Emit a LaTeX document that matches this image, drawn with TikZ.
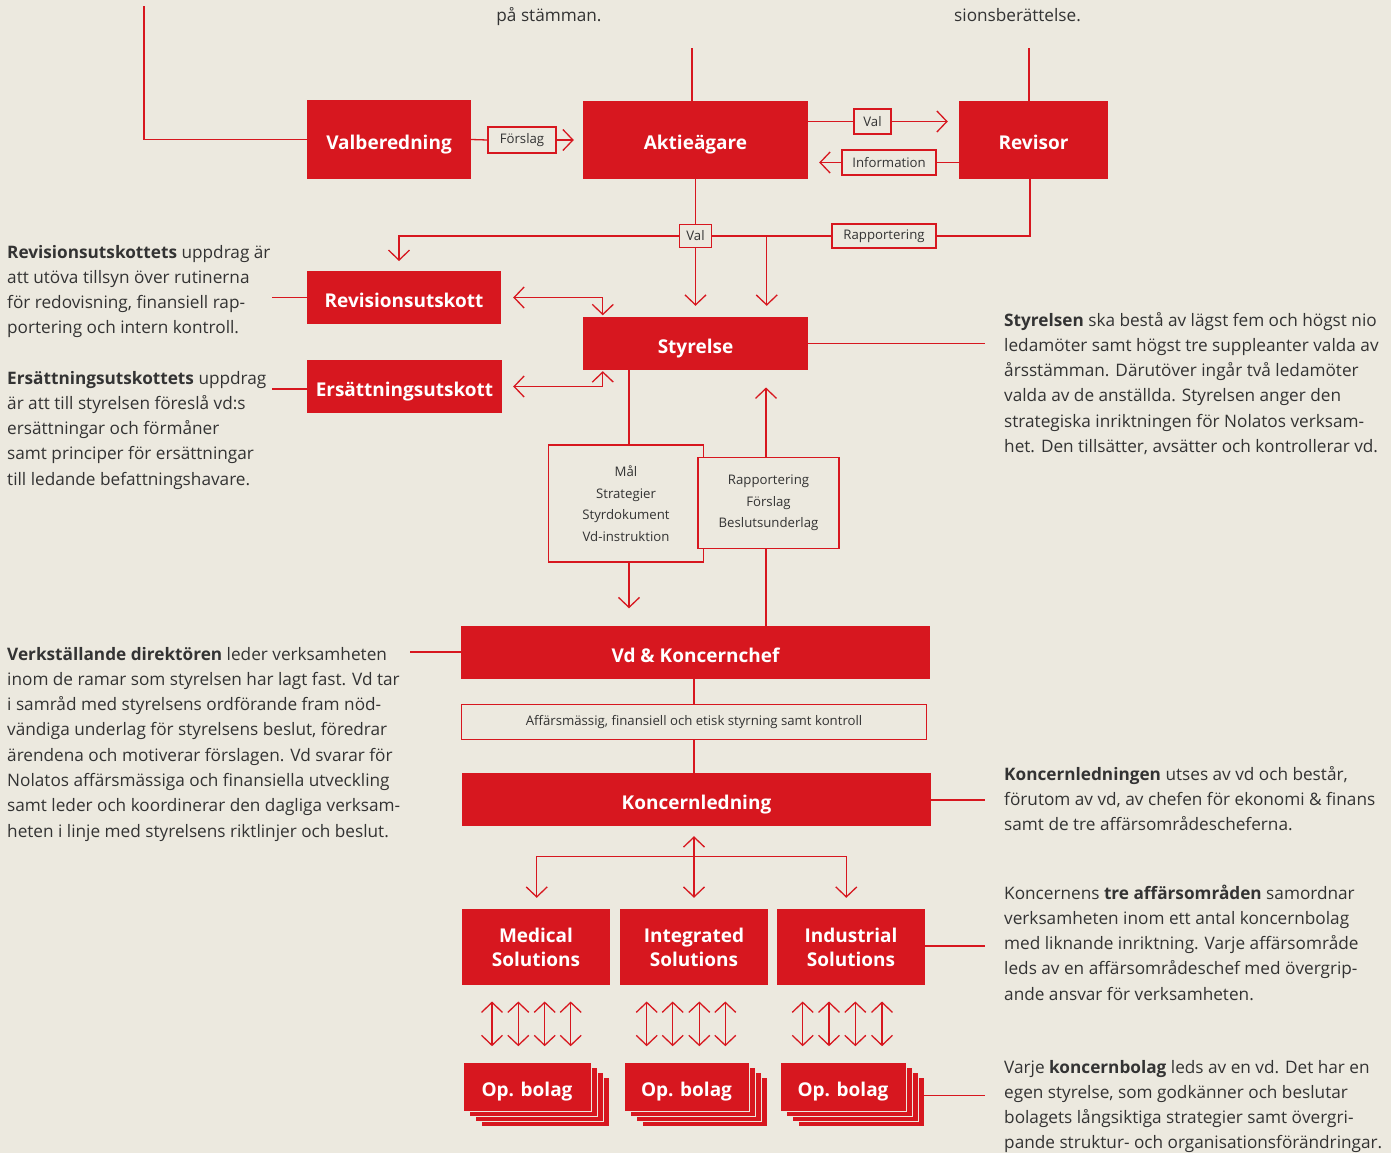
\documentclass[tikz,border=0pt]{standalone}
\usepackage{fontspec}
\setmainfont{Open Sans}
\usepackage{xcolor}
\usetikzlibrary{arrows.meta}
\usetikzlibrary{calc}

\definecolor{bgbeige}{HTML}{ECE9DF}
\definecolor{nolred}{HTML}{D7171F}
\definecolor{txtgray}{HTML}{333333}

\tikzset{
	redbox/.style={fill=nolred, draw=none, text=white, inner sep=0pt, align=center, text depth=0pt,
		font=\bfseries\fontsize{19}{24}\selectfont},
	redline/.style={redbox, text height=19pt},
	labelbox/.style={fill=bgbeige, draw=nolred, line width=1.2pt, text=txtgray, inner sep=0pt,
		align=center, font=\fontsize{13.2}{21.5}\selectfont},
	opcard/.style={fill=nolred, draw=bgbeige, line width=0.9pt, text=white, inner sep=0pt,
		text height=19pt, text depth=0pt,
		minimum height=49.5, font=\bfseries\fontsize{19}{24}\selectfont},
	desc/.style={anchor=base west, align=left, inner sep=0pt, text=txtgray,
		font=\fontsize{17.2}{25.3}\selectfont},
	conn/.style={draw=nolred, line width=1.3pt},
}

\begin{document}
\begin{tikzpicture}[x=1pt, y=-1pt, >={Straight Barb[length=10pt,width=21pt]}]
		\useasboundingbox (0,0) rectangle (1391,1153);
		\fill[bgbeige] (0,0) rectangle (1391,1153);

		% top row
		\node at (389,139.5) (valb) [redline, minimum width=164, minimum height=79] {Valberedning};
		\node at (695.5,140) (aktie) [redline, minimum width=225, minimum height=78] {Aktieägare};
		\node at (1033.5,140) (revisor) [redline, minimum width=149, minimum height=78] {Revisor};
		\node at (522,140) (forslag) [labelbox, minimum width=68, minimum height=26] {Förslag};
		\node at (872.5,121.5) (val1) [labelbox, minimum width=37, minimum height=25] {Val};
		\node at (889,162.5) (info) [labelbox, minimum width=94, minimum height=25] {Information};

		\node at (549,22) (stamma) [desc, anchor=base] {på stämman.};
		\node at (954,22) (revber) [desc] {sionsberättelse.};

		\coordinate (valtop) at (144,6);
		\coordinate (aktietop) at (692,48);
		\coordinate (revtop) at (1029,48);
		\draw[conn] (valb.west) -| (valtop);
		\draw[conn] (aktietop |- aktie.north) -- (aktietop);
		\draw[conn] (revtop |- revisor.north) -- (revtop);
		\draw[conn] (valb.east) -- (forslag.west);
		\draw[conn, ->, shorten >=9pt] (forslag.east) -- (aktie.west);
		\draw[conn] (aktie.east |- val1) -- (val1.west);
		\draw[conn, ->, shorten >=11pt] (val1.east) -- (revisor.west |- val1);
		\draw[conn] (revisor.west |- info) -- (info.east);
		\draw[conn, ->, shorten >=11pt] (info.west) -- (aktie.east |- info);

		% styrelse level
		\node at (404,297.5) (revut) [redline, minimum width=194, minimum height=53] {Revisionsutskott};
		\node at (404.5,386.5) (ersut) [redline, minimum width=195, minimum height=53] {Ersättningsutskott};
		\node at (695.5,343.5) (styr) [redline, minimum width=225, minimum height=53] {Styrelse};
		\node at (695.5,236) (val2) [labelbox, minimum width=32, minimum height=23] {Val};
		\node at (884,236) (rapp) [labelbox, minimum width=104, minimum height=24] {Rapportering};

		\coordinate (revbot) at (1030,179);
		\coordinate (revutin) at (399,261);
		\coordinate (branch) at (766.7,236);
		\draw[conn] (revbot) |- (rapp.east);
		\draw[conn] (rapp.west) -- (val2.east);
		\draw[conn] (aktie.south) -- (val2.north);
		\draw[conn, ->] (val2.west) -| (revutin);
		\draw[conn, ->, shorten >=11pt] (val2.south) -- (styr.north);
		\draw[conn, ->, shorten >=11pt] (branch) -- (branch |- styr.north);
		\draw[conn, <->, shorten <=12pt, shorten >=1.5pt] (revut.east) -| ($(styr.north west)+(20,0)$);
		\draw[conn, <->, shorten <=11pt, shorten >=1pt] (ersut.east) -| ($(styr.south west)+(20,0)$);

		\coordinate (revutl) at (272,297.5);
		\coordinate (ersutl) at (272,389);
		\coordinate (styrr) at (985,343.5);
		\draw[conn] (revut.west) -- (revutl);
		\draw[conn] (ersut.west |- ersutl) -- (ersutl);
		\draw[conn] (styr.east) -- (styrr);

		\node at (7,333.9) (revtxt) [desc] {\textbf{Revisionsutskottets} uppdrag är\\att utöva tillsyn över rutinerna\\för redovisning, finansiell rap-\\portering och intern kontroll.};
		\node at (7,485.2) (erstxt) [desc] {\textbf{Ersättningsutskottets} uppdrag\\är att till styrelsen föreslå vd:s\\ersättningar och förmåner\\samt principer för ersättningar\\till ledande befattningshavare.};
		\node at (1004,452.5) (styrtxt) [desc] {\textbf{Styrelsen} ska bestå av lägst fem och högst nio\\ledamöter samt högst tre suppleanter valda av\\årsstämman. Därutöver ingår två ledamöter\\valda av de anställda. Styrelsen anger den\\strategiska inriktningen för Nolatos verksam-\\het. Den tillsätter, avsätter och kontrollerar vd.};

		% styrdokument
		\node at (626,503.5) (mal) [labelbox, minimum width=155, minimum height=117] {Mål\\Strategier\\Styrdokument\\Vd-instruktion};
		\node at (768.5,503) (rappb) [labelbox, minimum width=141, minimum height=91] {Rapportering\\Förslag\\Beslutsunderlag};

		% vd
		\node at (695.5,652.5) (vd) [redline, minimum width=469, minimum height=53] {Vd \& Koncernchef};
		\node at (694,722) (affars) [labelbox, minimum width=465, minimum height=35] {Affärsmässig, finansiell och etisk styrning samt kontroll};
		\node at (696.5,799.5) (koncl) [redline, minimum width=469, minimum height=53] {Koncernledning};

		\coordinate (sdown) at (629,370);
		\coordinate (sup) at (766,370);
		\draw[conn] (sdown) -- (sdown |- mal.north);
		\draw[conn, ->, shorten >=17.5pt] (sdown |- mal.south) -- (sdown |- vd.north);
		\draw[conn] (sup |- vd.north) -- (sup |- rappb.south);
		\draw[conn, ->, shorten >=17.5pt] (sup |- rappb.north) -- (sup);
		\draw[conn] (vd.south -| affars.north) -- (affars.north);
		\draw[conn] (affars.south) -- (affars.south |- koncl.north);

		\coordinate (vdl) at (410,652);
		\coordinate (konclr) at (985,800);
		\draw[conn] (vd.west |- vdl) -- (vdl);
		\draw[conn] (koncl.east |- konclr) -- (konclr);

		\node at (7,837.1) (vdtxt) [desc] {\textbf{Verkställande direktören} leder verksamheten\\inom de ramar som styrelsen har lagt fast. Vd tar\\i samråd med styrelsens ordförande fram nöd-\\vändiga underlag för styrelsens beslut, föredrar\\ärendena och motiverar förslagen. Vd svarar för\\Nolatos affärsmässiga och finansiella utveckling\\samt leder och koordinerar den dagliga verksam-\\heten i linje med styrelsens riktlinjer och beslut.};
		\node at (1004,830.6) (konctxt) [desc] {\textbf{Koncernledningen} utses av vd och består,\\förutom av vd, av chefen för ekonomi \& finans\\samt de tre affärsområdescheferna.};

		% affärsområden
		\node at (536,947) (medical) [redbox, minimum width=148, minimum height=76, yshift=0pt] {Medical\\Solutions};
		\node at (694,947) (integ) [redbox, minimum width=148, minimum height=76] {Integrated\\Solutions};
		\node at (851,947) (indus) [redbox, minimum width=148, minimum height=76] {Industrial\\Solutions};

		\coordinate (barl) at (536.7,856.3);
		\coordinate (barr) at (846.3,856.3);
		\draw[conn, <->, shorten <=10pt, shorten >=11pt] (koncl.south -| integ.north) -- (integ.north);
		\draw[conn, <->, shorten <=11pt, shorten >=11pt] (barl |- medical.north) -- (barl) -- (barr) -- (barr |- indus.north);

		\coordinate (indusr) at (985,946);
		\draw[conn] (indus.east |- indusr) -- (indusr);

		% op. bolag
		\coordinate (opmedc) at (527,1087);
		\coordinate (opintc) at (686.5,1087);
		\coordinate (opindc) at (843,1087);
		\foreach \k in {3,2,1}{
			\node at ($(opmedc)+(6*\k,5*\k)$) (opmed\k) [opcard, minimum width=128] {};
			\node at ($(opintc)+(6*\k,5*\k)$) (opint\k) [opcard, minimum width=125] {};
			\node at ($(opindc)+(6*\k,5*\k)$) (opind\k) [opcard, minimum width=126] {};
		}
		\node at (opmedc) (opmed) [opcard, minimum width=128] {Op. bolag};
		\node at (opintc) (opint) [opcard, minimum width=125] {Op. bolag};
		\node at (opindc) (opind) [opcard, minimum width=126] {Op. bolag};

		\foreach \x in {492,518.3,544.7,570.7}{
			\draw[conn, <->, shorten <=16.3pt, shorten >=15.6pt] (\x,0 |- medical.south) -- (\x,0 |- opmed.north);
		}
		\foreach \x in {646.7,672.7,699.3,725.3}{
			\draw[conn, <->, shorten <=16.3pt, shorten >=15.6pt] (\x,0 |- integ.south) -- (\x,0 |- opint.north);
		}
		\foreach \x in {802.7,829,855.3,882}{
			\draw[conn, <->, shorten <=16.3pt, shorten >=15.6pt] (\x,0 |- indus.south) -- (\x,0 |- opind.north);
		}

		\coordinate (opindr) at (985,1095.7);
		\draw[conn] (opindr -| opind3.east) -- (opindr);

		\node at (1004,1000.2) (aftxt) [desc] {Koncernens \textbf{tre affärsområden} samordnar\\verksamheten inom ett antal koncernbolag\\med liknande inriktning. Varje affärsområde\\leds av en affärsområdeschef med övergrip-\\ande ansvar för verksamheten.};
		\node at (1004,1148.9) (bolagtxt) [desc] {Varje \textbf{koncernbolag} leds av en vd. Det har en\\egen styrelse, som godkänner och beslutar\\bolagets långsiktiga strategier samt övergri-\\pande struktur- och organisationsförändringar.};
	\end{tikzpicture}
\end{document}
